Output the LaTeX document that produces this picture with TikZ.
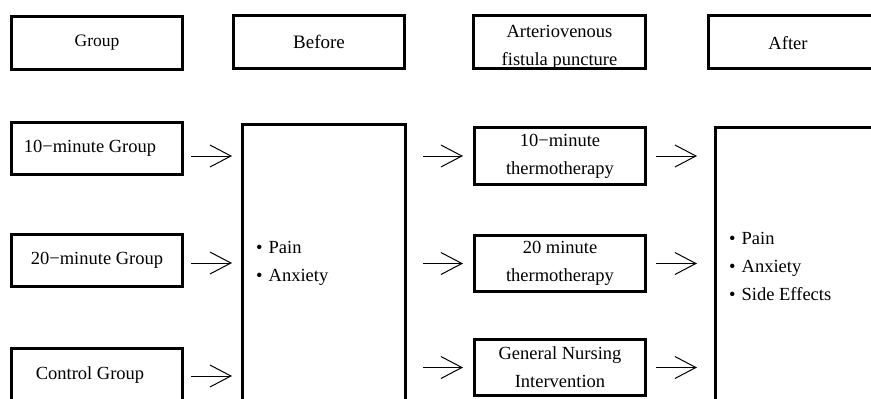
\documentclass[tikz,border=0pt]{standalone}
\usepackage{fontspec}
\setmainfont{Liberation Serif}
\usetikzlibrary{arrows.meta}
\begin{document}
\begin{tikzpicture}[x=1pt,y=-1pt,
  box/.style={draw, line width=3pt, inner sep=0pt, align=center, font=\fontsize{18.5}{28}\selectfont},
  lbl/.style={inner sep=0pt, font=\fontsize{18.5}{28}\selectfont},
  arr/.style={line width=1pt, -{Straight Barb[length=21pt,width=22pt,line width=1pt]}},
]
\path[use as bounding box] (0,0) rectangle (871,399);
\clip (0,0) rectangle (871,399);

% header row
\node[box, minimum width=171pt, minimum height=53pt, font=\fontsize{17.5}{28}\selectfont] (h1) at (97,43) {Group};
\node[box, minimum width=171pt, minimum height=53pt, font=\fontsize{19}{28}\selectfont] (h2) at (319,42) {Before};
\node[lbl, align=center] (avt) at (559.5,47) {Arteriovenous\\fistula puncture};
\node[box, minimum width=172pt, minimum height=53pt] (h3) at (559.5,42) {};
\node[box, minimum width=300pt, minimum height=53pt] (h4) at (858.5,42) {};
\node[lbl, font=\fontsize{18.5}{28}\selectfont] (aftert) at (788,43) {After};

% group boxes
\node[box, minimum width=171pt, minimum height=52pt] (g1) at (97,148.5) {10−minute Group\hspace*{14pt}};
\node[box, minimum width=171pt, minimum height=52pt] (g2) at (97,260.5) {20−minute Group};
\node[box, minimum width=171pt, minimum height=53pt] (g3) at (97,375) {Control Group\hspace*{14pt}};

% before box
\node[box, minimum width=163pt, minimum height=380pt] (before) at (324,314.5) {};
\node[lbl, align=left, anchor=west] (bt) at (256,263.5) {•\hspace{6pt}Pain\\•\hspace{6pt}Anxiety};

% intervention boxes
\node[box, minimum width=171pt, minimum height=57pt] (t1) at (560,156) {10−minute\\thermotherapy};
\node[box, minimum width=171pt, minimum height=56pt] (t2) at (560,263.5) {20 minute\\thermotherapy};
\node[box, minimum width=171pt, minimum height=56pt] (t3) at (560,367.5) {General Nursing\\Intervention};

% after box
\node[box, minimum width=300pt, minimum height=380pt] (after) at (865.5,317.5) {};
\node[lbl, align=left, anchor=west] (at) at (729,266) {•\hspace{6pt}Pain\\•\hspace{6pt}Anxiety\\•\hspace{6pt}Side Effects};

% arrow rows
\coordinate (a1) at (0,156);
\coordinate (a2) at (0,263);
\coordinate (a3) at (0,376);

\draw[arr, shorten <=7pt, shorten >=9pt] (g1.east |- a1) -- (before.west |- a1);
\draw[arr, shorten <=7pt, shorten >=9pt] (g2.east |- a2) -- (before.west |- a2);
\draw[arr, shorten <=7pt, shorten >=9pt] (g3.east |- a3) -- (before.west |- a3);

\draw[arr, shorten <=16pt, shorten >=10pt] (before.east |- t1.west) -- (t1.west);
\draw[arr, shorten <=16pt, shorten >=10pt] (before.east |- t2.west) -- (t2.west);
\draw[arr, shorten <=16pt, shorten >=10pt] (before.east |- t3.west) -- (t3.west);

\draw[arr, shorten <=9pt, shorten >=17pt] (t1.east) -- (after.west |- t1.east);
\draw[arr, shorten <=9pt, shorten >=17pt] (t2.east) -- (after.west |- t2.east);
\draw[arr, shorten <=9pt, shorten >=17pt] (t3.east) -- (after.west |- t3.east);
\end{tikzpicture}
\end{document}
